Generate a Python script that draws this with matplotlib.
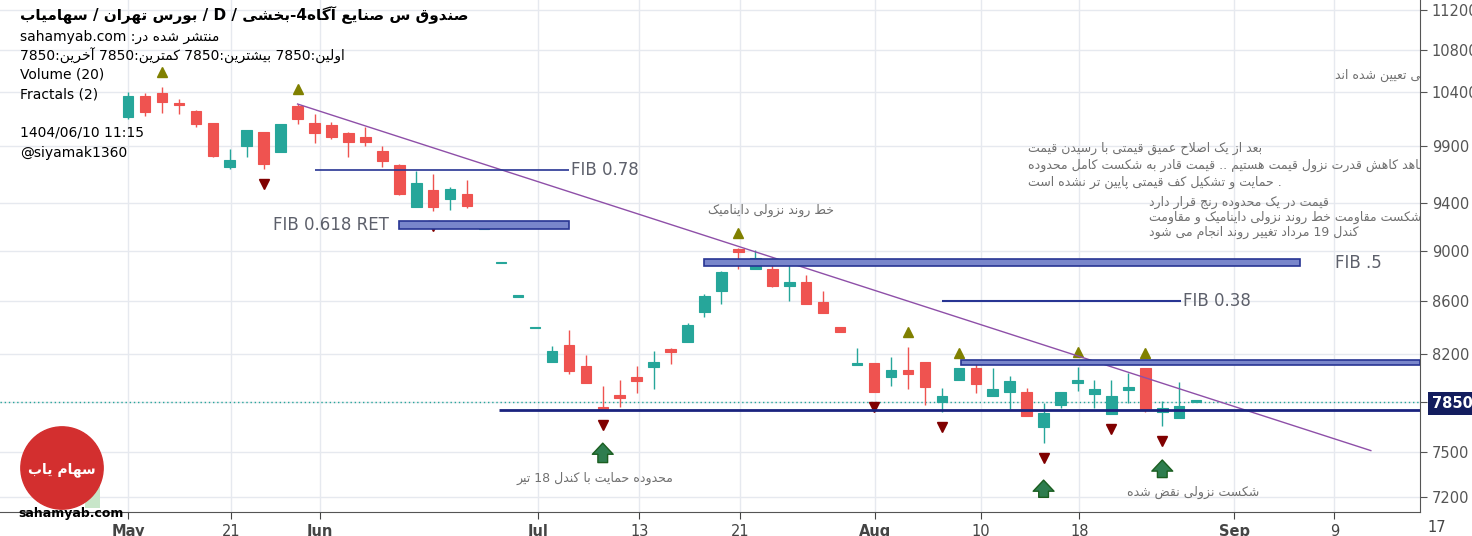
import re
import matplotlib
matplotlib.use("Agg")
import matplotlib.pyplot as plt
from matplotlib.patches import Circle, Rectangle

plt.rcParams['font.family'] = ['DejaVu Sans']

# ---- data ----
opens  = [10165, 10360, 10390, 10285, 10220, 10110, 9715, 9900, 10025, 9845,
          10265, 10110, 10090, 10015, 9980, 9855, 9730, 9365, 9515, 9435,
          9475, 9185, 8900, 8635, 8390, 8140, 8265, 8110, 7815, 7900,
          8030, 8100, 8235, 8290, 8515, 8680, 9015, 8855, 8855, 8720,
          8750, 8595, 8400, 8120, 8130, 8030, 8080, 8140, 7850, 8010,
          8095, 7890, 7920, 7920, 7675, 7825, 7985, 7905, 7760, 7935,
          8095, 7780, 7735, 7848]
highs  = [10400, 10390, 10445, 10330, 10230, 10110, 9875, 10045, 10030, 10100,
          10285, 10190, 10120, 10025, 10070, 9900, 9740, 9680, 9650, 9540,
          9600, 9195, 8905, 8645, 8400, 8255, 8380, 8190, 7965, 8005,
          8110, 8220, 8240, 8430, 8660, 8840, 9025, 9010, 8940, 8890,
          8810, 8680, 8400, 8240, 8130, 8175, 8250, 8140, 7950, 8095,
          8130, 8095, 8035, 7950, 7840, 7920, 8100, 8005, 8005, 8055,
          8095, 7855, 7995, 7852]
lows   = [10150, 10175, 10200, 10190, 10075, 9800, 9700, 9800, 9695, 9845,
          10100, 9930, 9965, 9800, 9900, 9715, 9470, 9365, 9330, 9340,
          9360, 9185, 8900, 8635, 8390, 8140, 8050, 7985, 7795, 7810,
          7915, 7940, 8125, 8285, 8480, 8580, 8855, 8855, 8710, 8600,
          8580, 8505, 8365, 8120, 7920, 7965, 7940, 7830, 7775, 8010,
          7915, 7890, 7800, 7750, 7565, 7805, 7925, 7805, 7760, 7840,
          7780, 7680, 7735, 7848]
closes = [10360, 10210, 10305, 10275, 10100, 9810, 9775, 10045, 9740, 10100,
          10145, 10020, 9980, 9935, 9935, 9765, 9480, 9575, 9365, 9520,
          9375, 9195, 8905, 8645, 8400, 8220, 8070, 7985, 7800, 7875,
          8000, 8140, 8210, 8420, 8640, 8830, 8990, 8945, 8720, 8750,
          8580, 8505, 8365, 8125, 7920, 8080, 8050, 7955, 7890, 8095,
          7980, 7940, 8000, 7750, 7770, 7920, 8005, 7940, 7890, 7955,
          7800, 7805, 7820, 7852]

fractal_up = [2, 10, 36, 46, 49, 56, 60]
fractal_down = [8, 18, 28, 44, 48, 54, 58, 61]

tick_pos = [0, 6.08, 11.33, 24.2, 30.15, 36.1, 44.07, 50.3, 56.1, 65.25, 71.15]
tick_lab = ['May', '21', 'Jun', 'Jul', '13', '21', 'Aug', '10', '18', 'Sep', '9']
price_ticks = [7200, 7500, 7850, 8200, 8600, 9000, 9400, 9900, 10400, 10800, 11200]
last_price = 7850

# trend line
trend_x = [10, 73.3]
trend_y = [10285, 7510]
# fib lines / zones: (x0, x1, price)
fib78 = (11, 26, 9690)
fib38 = (48, 62.1, 8600)
support = (21.9, 76.2, 7795)
# boxes: (x0, x1, low, high)
fib618 = (16, 26, 9180, 9250)
fib5 = (34, 69.1, 8880, 8935)
resist = (49.1, 76.2, 8115, 8150)
# green arrows: (x, bottom, top)
arrows = [(28, 7410, 7580), (54, 7180, 7330), (61, 7310, 7465)]

# ---- simple persian shaping for matplotlib ----
F = {
    'ا': (0xFE8D, 0xFE8E), 'آ': (0xFE81, 0xFE82), 'د': (0xFEA9, 0xFEAA),
    'ذ': (0xFEAB, 0xFEAC), 'ر': (0xFEAD, 0xFEAE), 'ز': (0xFEAF, 0xFEB0),
    'ژ': (0xFB8A, 0xFB8B), 'و': (0xFEED, 0xFEEE),
    'ب': (0xFE8F, 0xFE90, 0xFE91, 0xFE92), 'پ': (0xFB56, 0xFB57, 0xFB58, 0xFB59),
    'ت': (0xFE95, 0xFE96, 0xFE97, 0xFE98), 'ث': (0xFE99, 0xFE9A, 0xFE9B, 0xFE9C),
    'ج': (0xFE9D, 0xFE9E, 0xFE9F, 0xFEA0), 'چ': (0xFB7A, 0xFB7B, 0xFB7C, 0xFB7D),
    'ح': (0xFEA1, 0xFEA2, 0xFEA3, 0xFEA4), 'خ': (0xFEA5, 0xFEA6, 0xFEA7, 0xFEA8),
    'س': (0xFEB1, 0xFEB2, 0xFEB3, 0xFEB4), 'ش': (0xFEB5, 0xFEB6, 0xFEB7, 0xFEB8),
    'ص': (0xFEB9, 0xFEBA, 0xFEBB, 0xFEBC), 'ض': (0xFEBD, 0xFEBE, 0xFEBF, 0xFEC0),
    'ط': (0xFEC1, 0xFEC2, 0xFEC3, 0xFEC4), 'ظ': (0xFEC5, 0xFEC6, 0xFEC7, 0xFEC8),
    'ع': (0xFEC9, 0xFECA, 0xFECB, 0xFECC), 'غ': (0xFECD, 0xFECE, 0xFECF, 0xFED0),
    'ف': (0xFED1, 0xFED2, 0xFED3, 0xFED4), 'ق': (0xFED5, 0xFED6, 0xFED7, 0xFED8),
    'ک': (0xFB8E, 0xFB8F, 0xFB90, 0xFB91), 'گ': (0xFB92, 0xFB93, 0xFB94, 0xFB95),
    'ل': (0xFEDD, 0xFEDE, 0xFEDF, 0xFEE0), 'م': (0xFEE1, 0xFEE2, 0xFEE3, 0xFEE4),
    'ن': (0xFEE5, 0xFEE6, 0xFEE7, 0xFEE8), 'ه': (0xFEE9, 0xFEEA, 0xFEEB, 0xFEEC),
    'ی': (0xFBFC, 0xFBFD, 0xFBFE, 0xFBFF), 'ئ': (0xFE89, 0xFE8A, 0xFE8B, 0xFE8C),
}
LA = {'ا': (0xFEFB, 0xFEFC), 'آ': (0xFEF5, 0xFEF6)}


def shape(s):
    out = []
    i = 0
    while i < len(s):
        c = s[i]
        if c in F:
            prev = s[i - 1] if i > 0 else ''
            jp = prev in F and len(F[prev]) == 4
            if c == 'ل' and i + 1 < len(s) and s[i + 1] in LA:
                out.append(chr(LA[s[i + 1]][1 if jp else 0]))
                i += 2
                continue
            nxt = s[i + 1] if i + 1 < len(s) else ''
            jn = len(F[c]) == 4 and nxt in F
            f = F[c]
            g = f[3] if (jp and jn) else f[1] if jp else f[2] if jn else f[0]
            out.append(chr(g))
        else:
            out.append(c)
        i += 1
    return ''.join(out)


def rtl(s):
    toks = re.findall(r'[A-Za-z0-9.@_]+|[^A-Za-z0-9.@_]+', shape(s))
    return ''.join(t if re.match(r'[A-Za-z0-9.@_]', t) else t[::-1] for t in toks[::-1])


# ---- figure ----
fig = plt.figure(figsize=(14.72, 5.36), dpi=100)
ax = fig.add_axes([0, 24 / 536, 1420 / 1472, 512 / 536])
ax.set_yscale('log')
ax.set_ylim(7103, 11303)
ax.set_xlim(-7.55, 76.2)

up_c, dn_c = '#26a69a', '#ef5350'
for i, (o, h, l, c) in enumerate(zip(opens, highs, lows, closes)):
    col = up_c if c >= o else dn_c
    ax.vlines(i, l, h, color=col, lw=1, zorder=3)
    lo, hi = min(o, c), max(o, c)
    hi = max(hi, lo * 1.0015)
    ax.bar(i, hi - lo, bottom=lo, width=0.62, color=col, edgecolor=col, lw=0.8, zorder=4)

for i in fractal_up:
    ax.plot(i, highs[i] * 1.0137, marker='^', color='#808000', ms=7, zorder=5)
for i in fractal_down:
    ax.plot(i, lows[i] / 1.0137, marker='v', color='#800000', ms=7, zorder=5)

ax.plot(trend_x, trend_y, color='#8e4fa8', lw=1, zorder=6)
ax.hlines(fib78[2], fib78[0], fib78[1], color='#283593', lw=1.2, zorder=6)
ax.hlines(fib38[2], fib38[0], fib38[1], color='#283593', lw=1.5, zorder=6)
ax.hlines(support[2], support[0], support[1], color='#1a237e', lw=2, zorder=6)
ax.axhline(last_price, color='#26a69a', lw=1, ls=(0, (1, 2)), zorder=2)
for x0, x1, lo, hi in (fib618, fib5, resist):
    ax.add_patch(Rectangle((x0, lo), x1 - x0, hi - lo, facecolor='#7986cb',
                           edgecolor='#283593', lw=1.2, zorder=6))

for x, b, t in arrows:
    ax.annotate('', xy=(x, t), xytext=(x, b), zorder=7,
                arrowprops=dict(arrowstyle='simple,head_width=1.5,head_length=0.8,tail_width=0.7',
                                fc='#2e7d4f', ec='#1b5e20'))

lab = dict(color='#5d606b', fontsize=12, va='center', zorder=7)
ax.text(fib78[1] + 0.1, fib78[2], 'FIB 0.78', ha='left', **lab)
ax.text(fib618[0] - 0.6, 9215, 'FIB 0.618 RET', ha='right', **lab)
ax.text(71.2, 8905, 'FIB .5', ha='left', **lab)
ax.text(fib38[1] + 0.1, fib38[2], 'FIB 0.38', ha='left', **lab)

note = dict(color='#707070', fontsize=9, va='center', zorder=7, clip_on=True)
ax.text(37.9, 9340, rtl('خط روند نزولی داینامیک'), ha='center', **note)
ax.text(27.55, 7325, rtl('محدوده حمایت با کندل 18 تیر'), ha='center', **note)
ax.text(62.8, 7230, rtl('شکست نزولی نقض شده'), ha='center', **note)
ax.text(71.2, 10560, rtl('سطوح فیبوناچی بصورت طراحی تعیین شده اند'), ha='left', **note)
para1 = ['بعد از یک اصلاح عمیق قیمتی با رسیدن قیمت',
         'به محدوده 18 تیر شاهد کاهش قدرت نزول قیمت هستیم .. قیمت قادر به شکست کامل محدوده',
         '. حمایت و تشکیل کف قیمتی پایین تر نشده است']
for t, p in zip(para1, [9880, 9725, 9575]):
    ax.text(53.1, p, rtl(t), ha='left', **note)
para2 = ['قیمت در یک محدوده رنج قرار دارد',
         'در صورت شکست مقاومت خط روند نزولی داینامیک و مقاومت',
         'کندل 19 مرداد تغییر روند انجام می شود']
for t, p in zip(para2, [9410, 9280, 9150]):
    ax.text(60.2, p, rtl(t), ha='left', **note)

# axes styling
ax.set_xticks(tick_pos)
ax.set_xticklabels(tick_lab)
for t in ax.get_xticklabels():
    if t.get_text().isalpha():
        t.set_fontweight('bold')
ax.set_yticks(price_ticks)
ax.set_yticklabels([str(p) for p in price_ticks])
ax.minorticks_off()
ax.yaxis.tick_right()
ax.tick_params(axis='y', labelsize=10.5, colors='#555555', length=5)
ax.tick_params(axis='x', labelsize=10.5, colors='#444444', length=5)
ax.grid(True, color='#e6e9ef', lw=1)
ax.set_axisbelow(True)
for s in ('top', 'left'):
    ax.spines[s].set_visible(False)
ax.spines['right'].set_color('#555555')
ax.spines['bottom'].set_color('#555555')
for t in ax.get_yticklabels():
    if t.get_text() == str(last_price):
        t.set_color('white')
        t.set_fontweight('bold')
        t.set_bbox(dict(facecolor='#131d5e', edgecolor='none', pad=3))
fig.text(1437 / 1472, 9 / 536, '17', ha='center', va='center', fontsize=10.5, color='#444444')

# header texts
fig.text(20 / 1472, 1 - 15 / 536, rtl('صندوق س صنایع آگاه4-بخشی / D / بورس تهران / سهامیاب'),
         fontsize=11, fontweight='bold', va='center')
fig.text(20 / 1472, 1 - 37 / 536, rtl('منتشر شده در: sahamyab.com'), fontsize=10, va='center')
fig.text(20 / 1472, 1 - 56 / 536, rtl('اولین:7850 بیشترین:7850 کمترین:7850 آخرین:7850'),
         fontsize=10, va='center')
fig.text(20 / 1472, 1 - 75 / 536, 'Volume (20)', fontsize=10, va='center')
fig.text(20 / 1472, 1 - 95 / 536, 'Fractals (2)', fontsize=10, va='center')
fig.text(20 / 1472, 1 - 133 / 536, '1404/06/10 11:15', fontsize=10, va='center')
fig.text(20 / 1472, 1 - 153 / 536, '@siyamak1360', fontsize=10, va='center')

# watermark logo
ax.add_patch(Rectangle((-2.55, 7130), 0.9, 230, facecolor='#c8e6c9', edgecolor='none', zorder=1))
logo = fig.add_axes([20 / 1472, 1 - 510 / 536, 84 / 1472, 84 / 536])
logo.set_xlim(-1, 1)
logo.set_ylim(-1, 1)
logo.set_aspect('equal')
logo.axis('off')
logo.add_patch(Circle((0, 0), 0.98, color='#d32f2f'))
logo.text(0, -0.05, rtl('سهام یاب'), color='white', fontsize=10, fontweight='bold',
          ha='center', va='center')
fig.text(18 / 1472, 1 - 514 / 536, 'sahamyab.com', fontsize=9, fontweight='bold', va='center')

fig.savefig('out.png', dpi=100)
